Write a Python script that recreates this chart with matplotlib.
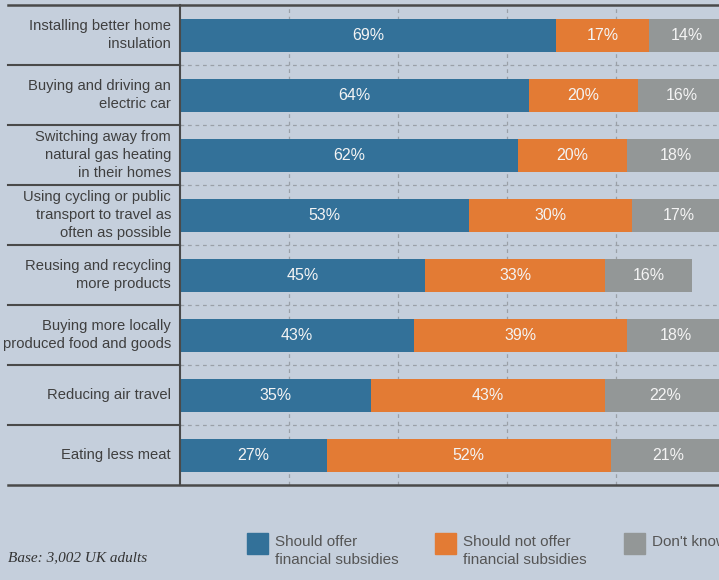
import matplotlib.pyplot as plt

# Survey responses, percent of UK adults
actions = [
    "Installing better home\ninsulation",
    "Buying and driving an\nelectric car",
    "Switching away from\nnatural gas heating\nin their homes",
    "Using cycling or public\ntransport to travel as\noften as possible",
    "Reusing and recycling\nmore products",
    "Buying more locally\nproduced food and goods",
    "Reducing air travel",
    "Eating less meat",
]
should_offer = [69, 64, 62, 53, 45, 43, 35, 27]
should_not_offer = [17, 20, 20, 30, 33, 39, 43, 52]
dont_know = [14, 16, 18, 17, 16, 18, 22, 21]

series_labels = ["Should offer\nfinancial subsidies",
                 "Should not offer\nfinancial subsidies",
                 "Don't know"]
colors = ["#337199", "#e37b34", "#939797"]
bg = "#c5cfdc"
line_col = "#4a4a4a"
text_col = "#3f3f3f"

plt.rcParams['font.family'] = ['Liberation Sans', 'DejaVu Sans']

W, H = 719, 580
fig = plt.figure(figsize=(W / 100, H / 100), dpi=100, facecolor=bg)
x0, top, bottom = 180, 5, 485
ax = fig.add_axes([x0 / W, (H - bottom) / H, (W - x0) / W, (bottom - top) / H])
ax.set_facecolor(bg)

px_per_pct = 5.45
ax.set_xlim(0, (W - x0) / px_per_pct)
ax.set_ylim(len(actions) - 0.5, -0.5)

# dashed gridlines
for g in [20, 40, 60, 80]:
    ax.axvline(g, color="#9aa0a8", lw=0.9, ls=(0, (3, 3)), zorder=0)
for i in range(len(actions) - 1):
    ax.axhline(i + 0.5, color="#9aa0a8", lw=0.9, ls=(0, (3, 3)), zorder=0)

ypos = list(range(len(actions)))
left = [0] * len(actions)
for vals, c in zip([should_offer, should_not_offer, dont_know], colors):
    ax.barh(ypos, vals, left=left, height=0.55, color=c, zorder=2)
    for y, v, l in zip(ypos, vals, left):
        ax.text(l + v / 2, y, f"{v}%", ha="center", va="center",
                color="#f4f4f4", fontsize=11.5, zorder=3)
    left = [a + b for a, b in zip(left, vals)]

for s in ax.spines.values():
    s.set_visible(False)
ax.spines["left"].set_visible(True)
ax.spines["left"].set_color(line_col)
ax.spines["left"].set_linewidth(1.5)
ax.set_xticks([])
ax.set_yticks([])

# row separators in the label column, plus full-width top and bottom rules
lx = -(x0 - 8) / (W - x0)
ytr = ax.get_yaxis_transform()
for i in range(len(actions) - 1):
    ax.plot([lx, 0], [i + 0.5] * 2, transform=ytr, color=line_col,
            lw=1.5, clip_on=False)
for yb in [-0.5, len(actions) - 0.5]:
    ax.plot([lx, 1], [yb] * 2, transform=ytr, color=line_col,
            lw=1.8, clip_on=False, zorder=4)

for y, name in zip(ypos, actions):
    ax.text(-9 / (W - x0), y, name, transform=ytr, ha="right", va="center",
            fontsize=10.6, color=text_col, linespacing=1.32)

# legend
for xs, lab, c in zip([247, 435, 624], series_labels, colors):
    fig.patches.append(plt.Rectangle((xs / W, (H - 554) / H), 21 / W, 21 / H,
                                     transform=fig.transFigure, color=c))
    fig.text((xs + 28) / W, (H - 535) / H, lab, ha="left", va="top",
             fontsize=11, color="#555555", linespacing=1.32)

fig.text(8 / W, (H - 558) / H, "Base: 3,002 UK adults", ha="left",
         va="center", fontsize=11, style="italic", color="#333333",
         family="Liberation Serif")

fig.savefig("out.png", dpi=100, facecolor=bg)
